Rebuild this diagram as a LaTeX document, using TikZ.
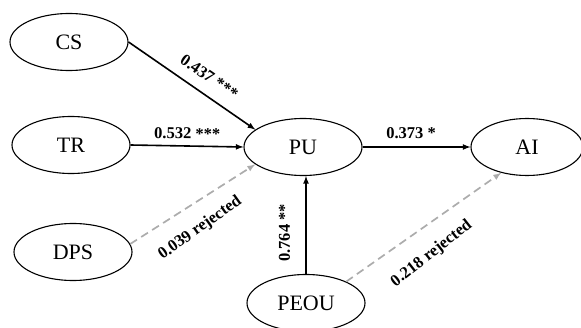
\documentclass[tikz,border=0pt]{standalone}
\usepackage{fontspec}
\setmainfont{Liberation Serif}
\usepackage{tikz}
\usetikzlibrary{arrows,shapes}
\tikzstyle{construct}=[draw,ellipse,line width=1.1pt,minimum width=118pt,minimum height=57pt,inner sep=0pt,font=\fontsize{22}{24}\selectfont]
\tikzstyle{accepted}=[line width=1.6pt,-latex]
\tikzstyle{rejected}=[line width=1.7pt,-latex,gray!65,dash pattern=on 8pt off 5pt]
\tikzstyle{coef}=[font=\fontsize{16.5}{18}\selectfont\bfseries,text=black,sloped,inner sep=5pt]

\begin{document}
\begin{tikzpicture}[x=1pt,y=1pt]
		\useasboundingbox (0,0) rectangle (581,327);
		\node[construct] (CS) at (69,285) {CS};
		\node[construct] (TR) at (71,182) {TR};
		\node[construct] (DPS) at (73,75) {DPS};
		\node[construct] (PU) at (303,180) {PU};
		\node[construct,minimum width=112pt] (AI) at (527,180) {AI};
		\node[construct] (PEOU) at (306,24) {PEOU};
		\draw[accepted] (CS.east) -- node[coef,above=6pt,pos=0.56] (lcs) {0.437 ***} (PU.160);
		\draw[accepted] (TR.east) -- node[coef,above=1pt] (ltr) {0.532 ***} (PU.west);
		\draw[rejected] (DPS.8) -- node[coef,below=11pt,pos=0.45,rotate=3] (ldps) {0.039 rejected} (PU.200);
		\draw[accepted] (PEOU.north) -- node[coef,above=10pt,pos=0.42] (lpeou) {0.764 **} (PEOU.north |- PU.south);
		\draw[accepted] (PU.east) -- node[coef,above=2pt,pos=0.45] (lpu) {0.373 *} (AI.west);
		\draw[rejected] (PEOU.28) -- node[coef,below=13pt,pos=0.45,rotate=3] (lai) {0.218 rejected} (AI.225);
	\end{tikzpicture}
\end{document}
